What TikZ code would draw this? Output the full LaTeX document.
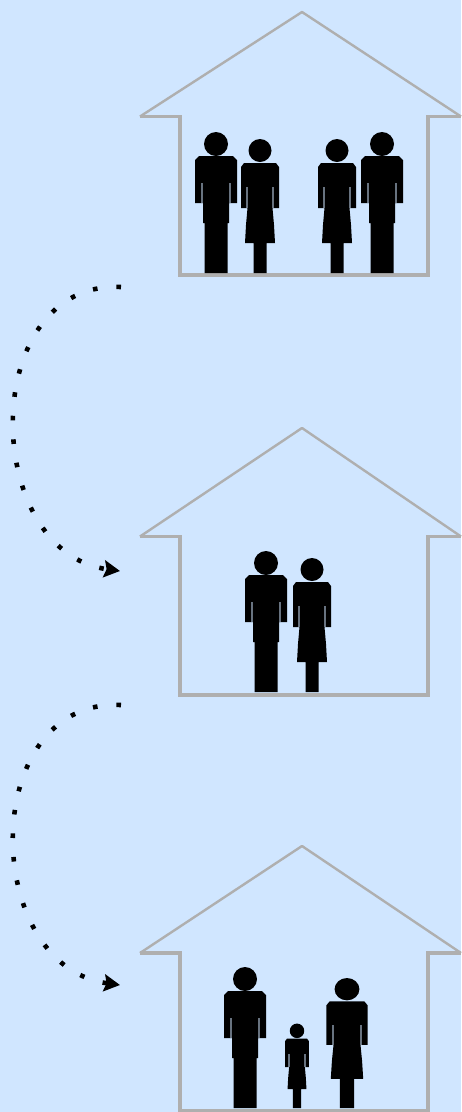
\documentclass[tikz,border=0pt]{standalone}
\usetikzlibrary{arrows.meta}
\definecolor{skyback}{HTML}{D0E6FF}
\definecolor{wallgrey}{HTML}{AFAFAF}
\tikzset{
  wall/.style    = {draw=wallgrey, line width=3.2pt, line join=miter},
  roof/.style    = {draw=wallgrey, line width=2.4pt, line join=round},
  figure/.style  = {fill=black, draw=none},
  armgap/.style  = {draw=skyback, draw opacity=.5, line width=1.4pt},
  dotlink/.style = {line width=4.6pt, dash pattern=on 4.6pt off 19pt,
                    -{Stealth[length=16pt, width=17pt, inset=2.5pt]}},
  man/.pic = {
    \fill[figure] (0,-129) circle (12);
    \fill[figure] (-11.5,0) -- (-11.5,-50) -- (-13,-50) -- (-13,-70) -- (-21,-70) -- (-21,-113)
      -- (-17,-117) -- (17,-117) -- (21,-113) -- (21,-70) -- (13,-70) -- (13,-50)
      -- (11.5,-50) -- (11.5,0) -- cycle;
    \draw[armgap] (-14,-70) -- (-14,-90);
    \draw[armgap] (14,-70) -- (14,-90);
  },
  woman/.pic = {
    \fill[figure] (0,-122.5) circle (11.5);
    \fill[figure] (-6.5,0) -- (-6.5,-30) -- (-15,-30) -- (-14,-48) -- (-12.5,-65) -- (-19,-65)
      -- (-19,-106) -- (-16,-110) -- (16,-110) -- (19,-106) -- (19,-65) -- (12.5,-65)
      -- (14,-48) -- (15,-30) -- (6.5,-30) -- (6.5,0) -- cycle;
    \draw[armgap] (-13,-65) -- (-13,-86);
    \draw[armgap] (13,-65) -- (13,-86);
  },
}
\newcommand{\drawhouse}[3]{%
  \draw[roof] (140,#2) -- (302,#1) -- (461,#2);
  \draw[wall] (140,#2) -- (180,#2) -- (180,#3) -- (428,#3) -- (428,#2) -- (461,#2);
}

\begin{document}
\begin{tikzpicture}[x=1pt, y=-1pt]
  \fill[skyback] (0,0) rectangle (461,1112);
  \useasboundingbox (0,0) rectangle (461,1112);

  \drawhouse{12}{116.5}{275}
  \drawhouse{428}{536.5}{695}
  \drawhouse{846}{953}{1110.5}

  \pic (topdad)   at (216,273) {man};
  \pic (topmum)   at (260,273) {woman};
  \pic (topwife)  at (337,273) {woman};
  \pic (tophusb)  at (382,273) {man};

  \pic (middad)   at (266,692) {man};
  \pic (midmum)   at (312,692) {woman};

  \pic (botdad)   at (245,1108) {man};
  \pic[scale=.63] (botchild) at (297,1108) {woman};
  \pic[xscale=1.08, yscale=.97] (botmum) at (347,1108) {woman};

  \coordinate (movestart) at (121,287);
  \coordinate (moveend)   at (120,571);
  \coordinate (birthstart) at (121,705);
  \coordinate (birthend)   at (120,985);

  \draw[dotlink] (movestart) .. controls (-22,280) and (-20,552) .. (moveend);
  \draw[dotlink] (birthstart) .. controls (-22,698) and (-20,966) .. (birthend);
\end{tikzpicture}
\end{document}
